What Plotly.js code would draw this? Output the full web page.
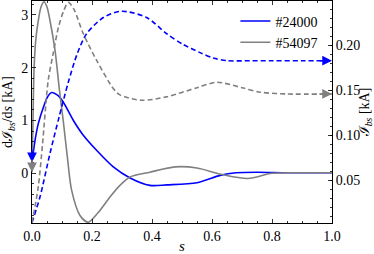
<!DOCTYPE html>
<html>
<head>
<meta charset="utf-8">
<script src="https://cdn.plot.ly/plotly-3.0.1.min.js"></script>
<style>html,body{margin:0;padding:0;background:#fff;}#chart{width:374px;height:254px;}</style>
</head>
<body>
<div id="chart"></div>
<script>
// dI_bs/ds (left axis), shot #24000
const sBlueSolid = [0, 0.01, 0.021, 0.038, 0.052, 0.066, 0.085, 0.104, 0.138, 0.171, 0.216, 0.271, 0.327, 0.393, 0.45, 0.55, 0.627, 0.68, 0.75, 0.85, 1.0];
const vBlueSolid = [0.21, 0.62, 0.94, 1.25, 1.45, 1.53, 1.48, 1.35, 1.0, 0.72, 0.43, 0.12, -0.09, -0.23, -0.22, -0.18, -0.04, 0.01, 0.02, 0.01, 0.01];
// dI_bs/ds (left axis), shot #54097
const sGraySolid = [0, 0.003, 0.007, 0.013, 0.021, 0.03, 0.04, 0.05, 0.06, 0.077, 0.091, 0.104, 0.118, 0.132, 0.16, 0.187, 0.22, 0.26, 0.293, 0.327, 0.393, 0.477, 0.55, 0.63, 0.72, 0.8, 0.9, 1.0];
const vGraySolid = [0.02, 0.9, 2.0, 2.55, 2.89, 3.15, 3.25, 3.15, 2.89, 2.32, 1.6, 1.0, 0.3, -0.32, -0.8, -0.93, -0.75, -0.45, -0.23, -0.07, 0.02, 0.12, 0.1, -0.02, -0.1, 0.0, 0.01, 0.01];
// I_bs (right axis), shot #24000
const sBlueDash = [0, 0.027, 0.06, 0.09, 0.121, 0.15, 0.182, 0.238, 0.299, 0.382, 0.449, 0.504, 0.56, 0.604, 0.65, 0.727, 0.8, 0.9, 1.0];
const vBlueDash = [0.003, 0.032, 0.08, 0.12, 0.159, 0.19, 0.213, 0.231, 0.238, 0.231, 0.213, 0.201, 0.192, 0.186, 0.183, 0.183, 0.183, 0.183, 0.183];
// I_bs (right axis), shot #54097
const sGrayDash = [0, 0.021, 0.035, 0.054, 0.07, 0.088, 0.105, 0.121, 0.14, 0.171, 0.216, 0.271, 0.293, 0.366, 0.45, 0.55, 0.616, 0.7, 0.76, 0.85, 1.0];
const vGrayDash = [0.003, 0.043, 0.09, 0.161, 0.19, 0.220, 0.238, 0.248, 0.24, 0.213, 0.183, 0.152, 0.145, 0.139, 0.143, 0.153, 0.159, 0.153, 0.148, 0.146, 0.146];

const seriesNames = ['#24000', '#54097'];
const BLUE = '#0000ff', GRAY = '#808080';
const FONT = 'Liberation Serif, DejaVu Serif, serif';

const traces = [
  {x: sBlueSolid, y: vBlueSolid, type: 'scatter', mode: 'lines', name: seriesNames[0],
   line: {color: BLUE, width: 1.6, shape: 'spline', smoothing: 0.8}, yaxis: 'y'},
  {x: sGraySolid, y: vGraySolid, type: 'scatter', mode: 'lines', name: seriesNames[1],
   line: {color: GRAY, width: 1.6, shape: 'spline', smoothing: 0.8}, yaxis: 'y'},
  {x: sBlueDash, y: vBlueDash, type: 'scatter', mode: 'lines', showlegend: false,
   line: {color: BLUE, width: 1.6, dash: '5px,3px', shape: 'spline', smoothing: 0.8}, yaxis: 'y2'},
  {x: sGrayDash, y: vGrayDash, type: 'scatter', mode: 'lines', showlegend: false,
   line: {color: GRAY, width: 1.6, dash: '5px,3px', shape: 'spline', smoothing: 0.8}, yaxis: 'y2'}
];

function arrowAt(x, y, yref, color, ax, ay) {
  return {x: x, y: y, xref: 'x', yref: yref, ax: ax, ay: ay, axref: 'pixel', ayref: 'pixel',
          showarrow: true, arrowhead: 2, arrowsize: 1.3, arrowwidth: 1.5, arrowcolor: color, text: '', standoff: 0};
}
const last = a => a[a.length - 1];
const annotations = [
  arrowAt(sBlueSolid[0], vBlueSolid[0], 'y', BLUE, 0, -14),
  arrowAt(sGraySolid[0], vGraySolid[0], 'y', GRAY, 0, -14),
  arrowAt(last(sBlueDash), last(vBlueDash), 'y2', BLUE, -14, 0),
  arrowAt(last(sGrayDash), last(vGrayDash), 'y2', GRAY, -14, 0)
];

const axisCommon = {showgrid: false, zeroline: false, showline: true, linecolor: '#000', linewidth: 1,
  ticks: 'inside', ticklen: 4, tickcolor: '#000', tickwidth: 0.8, tickfont: {family: FONT, size: 14, color: '#000'}};

const layout = {
  width: 374, height: 254,
  margin: {l: 32, r: 42, t: 1, b: 31},
  paper_bgcolor: '#fff', plot_bgcolor: '#fff',
  font: {family: FONT, size: 14, color: '#000'},
  showlegend: true,
  legend: {x: 0.678, y: 0.98, xanchor: 'left', yanchor: 'top', bgcolor: 'rgba(0,0,0,0)',
           font: {family: FONT, size: 14}, tracegroupgap: 0},
  xaxis: Object.assign({}, axisCommon, {range: [0, 1], dtick: 0.2, tickformat: '.1f', mirror: 'ticks',
    minor: {ticks: 'inside', dtick: 0.05, ticklen: 2, tickcolor: '#000'},
    title: {text: '<i>s</i>', font: {family: FONT, size: 15}, standoff: 0}}),
  yaxis: Object.assign({}, axisCommon, {range: [-0.943, 3.264], dtick: 1, tickformat: 'd',
    minor: {ticks: 'inside', dtick: 0.2, ticklen: 2, tickcolor: '#000'},
    title: {text: 'dℐ<sub><i>bs</i></sub>/d<i>s</i> [kA]', font: {family: FONT, size: 14}, standoff: 6}}),
  yaxis2: Object.assign({}, axisCommon, {overlaying: 'y', side: 'right', range: [0.0025, 0.2494],
    tickvals: [0.05, 0.10, 0.15, 0.20], ticktext: ['0.05', '0.10', '0.15', '0.20'],
    minor: {ticks: 'inside', dtick: 0.01, ticklen: 2, tickcolor: '#000'},
    title: {text: 'ℐ<sub><i>bs</i></sub> [kA]', font: {family: FONT, size: 14}, standoff: 1}}),
  annotations: annotations
};

Plotly.newPlot('chart', traces, layout, {staticPlot: true, displayModeBar: false});
</script>
</body>
</html>
